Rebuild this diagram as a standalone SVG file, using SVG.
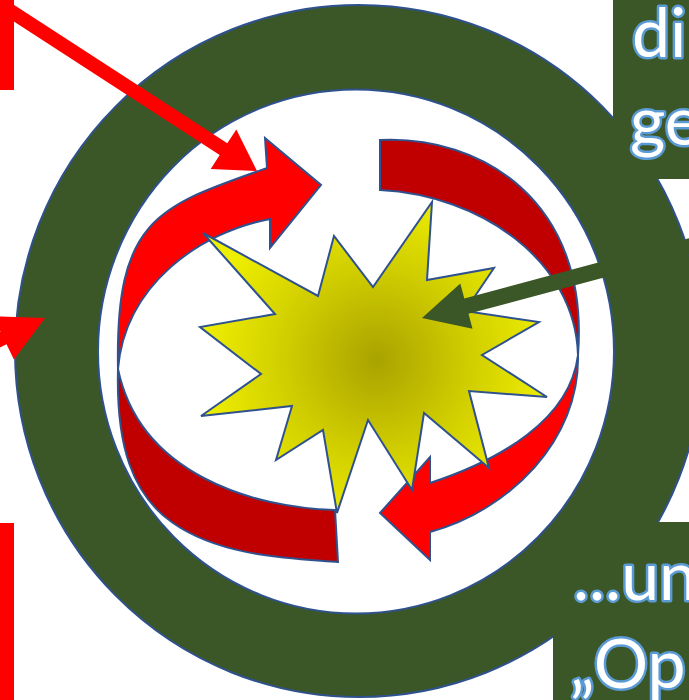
<svg xmlns="http://www.w3.org/2000/svg" width="689" height="700" viewBox="0 0 689 700">
  <defs>
    <radialGradient id="starGrad" gradientUnits="userSpaceOnUse" cx="377" cy="360" r="175">
      <stop offset="0" stop-color="#A9A300"/>
      <stop offset="0.55" stop-color="#D2CF00"/>
      <stop offset="1" stop-color="#EEEE00"/>
    </radialGradient>
    <style>
      .outl { stroke: #2F528F; stroke-width: 2; stroke-linejoin: miter; }
      .green { fill: #3B5727; }
      .red { fill: #FF0000; }
      .dred { fill: #C00000; }
      .lbl { font-family: "Lato", "Open Sans", "Liberation Sans", sans-serif; font-size: 68px; fill: #FFFFFF; stroke: #5B9BD5; stroke-width: 5; paint-order: stroke; stroke-linejoin: round; }
    </style>
  </defs>

  <rect x="0" y="0" width="689" height="700" fill="#FFFFFF"/>

  <g id="ring">
    <path class="green outl" fill-rule="evenodd" d="M 15,351 A 344,346 0 1,0 703,351 A 344,346 0 1,0 15,351 Z M 98,351.5 A 258,262 0 1,0 614,351.5 A 258,262 0 1,0 98,351.5 Z"/>
  </g>

  <g id="left-bars">
    <rect class="red" x="0" y="0" width="14" height="90"/>
    <rect class="red" x="0" y="523" width="14" height="177"/>
  </g>

  <g id="connectors">
    <polygon id="arrow-top-left" class="red" points="257,171 210.7,168.9 219.7,155.1 -23.6,-2.8 -16,-14.6 227.3,143.3 236.3,129.5"/>
    <polygon id="arrow-left" class="red" points="45,318 13.9,359.6 6.5,344.3 -20.5,357.3 -26.5,344.7 0.5,331.7 -6.9,316.4"/>
  </g>

  <g id="cycle-arrows">
    <path id="arc-left-back" class="dred outl" d="M 118,369 C 116,445 132,495 173,523 C 222,557 290,558 338,562 L 335,510 C 255,508 140,475 118,369 Z"/>
    <path id="arc-left-front" class="red outl" d="M 118,369 C 115,219 157,206.5 267,168 L 265,138 L 321,185 L 270,248 L 270,219 C 200,232 125,285 118,369 Z"/>
    <path id="arc-right-back" class="dred outl" d="M 380,140 C 480,135 590,200 578,355 C 575,260 480,195 380,190 Z"/>
    <path id="arc-right-front" class="red outl" d="M 578,355 C 580,440 510,510 430,532 L 430,560 L 380,513 L 430,457 L 430,483 C 500,460 570,420 578,355 Z"/>
  </g>

  <g id="star">
    <polygon fill="url(#starGrad)" class="outl" points="203,233 318,296 334,236 373,287 432,202 427,280 494,268 465,311 539,322 482,355 547,397 469,391 489,468 424,413 412,490 368,420 337,513 323,430 276,460 292,406 201,416 261,374 200,327 275,314"/>
  </g>

  <g id="connector-green">
    <polygon id="arrow-right" class="green" points="422,318 472.5,328.8 468.5,313.8 719.6,246.5 715.4,231.1 464.3,298.4 460.3,283.4"/>
  </g>

  <g id="label-top">
    <rect class="green" x="613" y="0" width="76" height="179"/>
    <text class="lbl" x="632" y="57">di</text>
    <text class="lbl" x="630" y="145">ge</text>
  </g>

  <g id="label-bottom">
    <rect class="green" x="553" y="522" width="136" height="178"/>
    <text class="lbl" x="573" y="600">...un</text>
    <text class="lbl" x="570" y="688">„Op</text>
  </g>
</svg>
